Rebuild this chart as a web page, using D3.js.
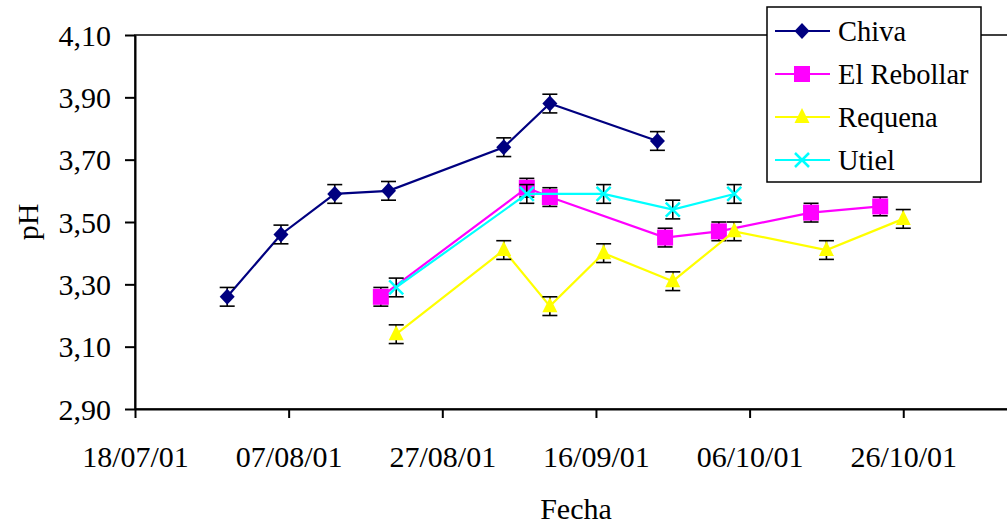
<!DOCTYPE html>
<html>
<head>
<meta charset="utf-8">
<script src="https://cdn.jsdelivr.net/npm/d3@7"></script>
<style>
  body { margin: 0; background: #fff; }
  svg { display: block; font-family: "Liberation Serif", "Times New Roman", serif; }
</style>
</head>
<body>
<svg id="chart" width="1007" height="526"></svg>
<script>
// values (dd/mm/yy)
const chivaDates = ['30/07/01', '06/08/01', '13/08/01', '20/08/01', '04/09/01', '10/09/01', '24/09/01'];
const chivaPH = [3.26, 3.46, 3.59, 3.60, 3.74, 3.88, 3.76];

const rebollarDates = ['19/08/01', '07/09/01', '10/09/01', '25/09/01', '02/10/01', '14/10/01', '23/10/01'];
const rebollarPH = [3.26, 3.61, 3.58, 3.45, 3.47, 3.53, 3.55];

const requenaDates = ['21/08/01', '04/09/01', '10/09/01', '17/09/01', '26/09/01', '04/10/01', '16/10/01', '26/10/01'];
const requenaPH = [3.14, 3.41, 3.23, 3.40, 3.31, 3.47, 3.41, 3.51];

const utielDates = ['21/08/01', '07/09/01', '17/09/01', '26/09/01', '04/10/01'];
const utielPH = [3.29, 3.59, 3.59, 3.54, 3.59];

// error bar half width (pH units)
const errPH = 0.03;

// the axis runs on to 15/11/01, past the right edge of the picture
const xEnd = '15/11/01';
const tickDates = ['18/07/01', '07/08/01', '27/08/01', '16/09/01', '06/10/01', '26/10/01'];
const yTicks = [2.9, 3.1, 3.3, 3.5, 3.7, 3.9, 4.1];

const parseDate = d3.timeParse('%d/%m/%y');
const fmtComma = (v) => v.toFixed(2).replace('.', ',');

const series = [
    { name: 'Chiva', dates: chivaDates, values: chivaPH, color: '#000080', shape: 'diamond' },
    { name: 'El Rebollar', dates: rebollarDates, values: rebollarPH, color: '#ff00ff', shape: 'square' },
    { name: 'Requena', dates: requenaDates, values: requenaPH, color: '#ffff00', shape: 'triangle' },
    { name: 'Utiel', dates: utielDates, values: utielPH, color: '#00ffff', shape: 'cross' },
];

const plotLeft = 135, plotTop = 35, plotBottom = 409;
const xScale = d3.scaleTime()
    .domain([parseDate(tickDates[0]), parseDate(xEnd)])
    .range([plotLeft, plotLeft + 6 * 153.65]);
const yScale = d3.scaleLinear().domain([2.9, 4.1]).range([plotBottom, plotTop]);

const svg = d3.select('#chart');

// plot area frame (runs off the right edge like the original)
svg.append('rect')
    .attr('x', plotLeft).attr('y', plotTop)
    .attr('width', xScale.range()[1] - plotLeft).attr('height', plotBottom - plotTop)
    .attr('fill', '#fff').attr('stroke', '#000').attr('stroke-width', 1.5);

// axes
const xAxis = d3.axisBottom(xScale)
    .tickValues(tickDates.map(parseDate))
    .tickFormat(d3.timeFormat('%d/%m/%y'))
    .tickSizeInner(9).tickSizeOuter(0).tickPadding(28);
const gx = svg.append('g').attr('transform', `translate(0,${plotBottom})`).call(xAxis);

const yAxis = d3.axisLeft(yScale)
    .tickValues(yTicks)
    .tickFormat(fmtComma)
    .tickSizeInner(10).tickSizeOuter(0).tickPadding(14);
const gy = svg.append('g').attr('transform', `translate(${plotLeft},0)`).call(yAxis);

[gx, gy].forEach((g) => {
    g.selectAll('path, line').attr('stroke', '#000').attr('stroke-width', 2);
    g.selectAll('text').attr('font-size', 30).attr('fill', '#000').attr('font-family', 'Liberation Serif');
});
gy.selectAll('text').attr('dy', '0.34em');

// axis titles
svg.append('text')
    .attr('x', 576).attr('y', 519)
    .attr('text-anchor', 'middle').attr('font-size', 30)
    .text('Fecha');
svg.append('text')
    .attr('transform', 'translate(38,222) rotate(-90)')
    .attr('text-anchor', 'middle').attr('font-size', 30)
    .text('pH');

// marker shapes
function marker(g, shape, color) {
    if (shape === 'diamond') {
        g.append('path').attr('d', 'M0,-8L7.5,0L0,8L-7.5,0Z').attr('fill', color);
    } else if (shape === 'square') {
        g.append('rect').attr('x', -8).attr('y', -8).attr('width', 16).attr('height', 16).attr('fill', color);
    } else if (shape === 'triangle') {
        g.append('path').attr('d', 'M0,-9L7.5,6L-7.5,6Z').attr('fill', color);
    } else {
        g.append('path').attr('d', 'M-7,-7L7,7M-7,7L7,-7')
            .attr('stroke', color).attr('stroke-width', 2.5).attr('fill', 'none');
    }
}

const line = d3.line().x((d) => xScale(d.date)).y((d) => yScale(d.v));

series.forEach((s) => {
    const pts = s.dates.map((d, i) => ({ date: parseDate(d), v: s.values[i] }));
    const g = svg.append('g');

    g.append('path')
        .datum(pts)
        .attr('d', line)
        .attr('fill', 'none')
        .attr('stroke', s.color)
        .attr('stroke-width', 2.2);

    // error bars
    const eb = g.selectAll('g.err').data(pts).join('g')
        .attr('class', 'err')
        .attr('stroke', '#000').attr('stroke-width', 1.6);
    eb.append('line')
        .attr('x1', (d) => xScale(d.date)).attr('x2', (d) => xScale(d.date))
        .attr('y1', (d) => yScale(d.v - errPH)).attr('y2', (d) => yScale(d.v + errPH));
    [-errPH, errPH].forEach((e) => {
        eb.append('line')
            .attr('x1', (d) => xScale(d.date) - 7.5).attr('x2', (d) => xScale(d.date) + 7.5)
            .attr('y1', (d) => yScale(d.v + e)).attr('y2', (d) => yScale(d.v + e));
    });

    g.selectAll('g.mk').data(pts).join('g')
        .attr('class', 'mk')
        .attr('transform', (d) => `translate(${xScale(d.date)},${yScale(d.v)})`)
        .each(function () { marker(d3.select(this), s.shape, s.color); });
});

// legend
const lg = svg.append('g').attr('transform', 'translate(767,7)');
lg.append('rect')
    .attr('width', 214).attr('height', 175)
    .attr('fill', '#fff').attr('stroke', '#000').attr('stroke-width', 1.5);
series.forEach((s, i) => {
    const yy = 24 + i * 43;
    const row = lg.append('g').attr('transform', `translate(0,${yy})`);
    row.append('line').attr('x1', 8).attr('x2', 63).attr('y1', 0).attr('y2', 0)
        .attr('stroke', s.color).attr('stroke-width', 2.2);
    marker(row.append('g').attr('transform', 'translate(35,0)'), s.shape, s.color);
    row.append('text').attr('x', 71).attr('y', 0).attr('dy', '0.34em')
        .attr('font-size', 28.5).text(s.name);
});
</script>
</body>
</html>
